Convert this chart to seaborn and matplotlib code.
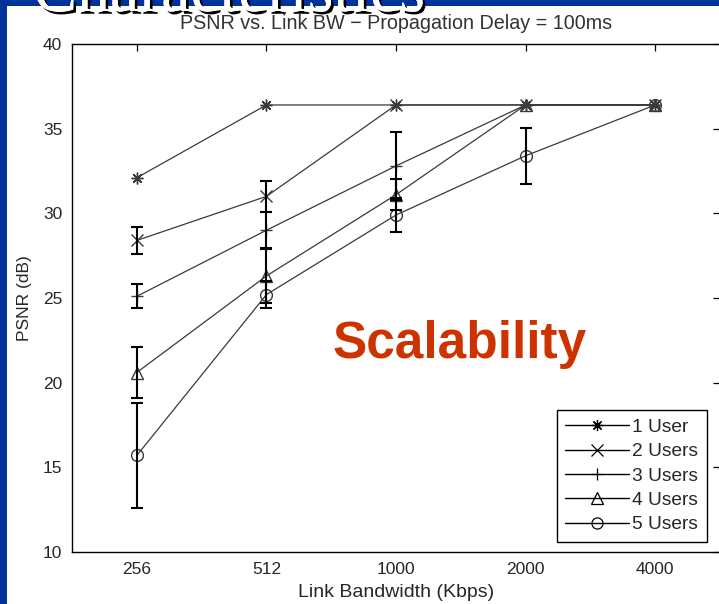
import matplotlib
matplotlib.use("Agg")
import matplotlib.pyplot as plt
import matplotlib.patheffects as pe
from matplotlib.patches import Rectangle
from matplotlib.lines import Line2D
import pandas as pd
import seaborn as sns

# Link bandwidth categories (Kbps) and the user counts compared
bandwidths = ["256", "512", "1000", "2000", "4000"]
users = ["1 User", "2 Users", "3 Users", "4 Users", "5 Users"]

# Mean PSNR (dB) per bandwidth for each user count
psnr_1 = [32.1, 36.4, 36.4, 36.4, 36.4]
psnr_2 = [28.4, 31.0, 36.4, 36.4, 36.4]
psnr_3 = [25.1, 29.0, 32.8, 36.4, 36.4]
psnr_4 = [20.6, 26.3, 31.1, 36.4, 36.4]
psnr_5 = [15.7, 25.2, 29.9, 33.4, 36.4]

# Half-width of the PSNR spread (dB)
err_1 = [0.0, 0.0, 0.0, 0.0, 0.0]
err_2 = [0.8, 0.9, 0.0, 0.0, 0.0]
err_3 = [0.7, 1.05, 2.0, 0.0, 0.0]
err_4 = [1.5, 1.6, 0.9, 0.0, 0.0]
err_5 = [3.1, 0.8, 1.0, 1.65, 0.0]

series_psnr = [psnr_1, psnr_2, psnr_3, psnr_4, psnr_5]
series_err = [err_1, err_2, err_3, err_4, err_5]
markers = [(8, 2, 0), "x", "+", "^", "o"]

W, H = 719, 604
sns.set_theme(style="white")
plt.rcParams["font.family"] = ["Liberation Sans", "DejaVu Sans"]

fig = plt.figure(figsize=(W / 100, H / 100), dpi=100)
fig.patch.set_facecolor("white")

# slide frame
blue = "#003399"
fig.patches.append(Rectangle((0, 1 - 6 / H), 1, 6 / H, transform=fig.transFigure,
                             facecolor=blue, edgecolor="none", zorder=0))
fig.patches.append(Rectangle((0, 0), 7 / W, 1, transform=fig.transFigure,
                             facecolor=blue, edgecolor="none", zorder=0))
fig.text(33 / W, 1 - 11 / H, "Characteristics", family="Liberation Serif",
         fontsize=47.5, color="white", ha="left", va="baseline", zorder=5,
         path_effects=[pe.withSimplePatchShadow(offset=(2, -2), shadow_rgbFace="black", alpha=1.0),
                       pe.Normal()])

ax_left, ax_right, ax_top, ax_bottom = 72, 720, 44, 552
ax = fig.add_axes([ax_left / W, (H - ax_bottom) / H, (ax_right - ax_left) / W,
                   (ax_bottom - ax_top) / H])
ax.set_facecolor("white")

positions = list(range(1, len(bandwidths) + 1))
line_col = "#3a3a3a"
for name, vals, errs, mk in zip(users, series_psnr, series_err, markers):
    df = pd.DataFrame({"pos": positions, "psnr": vals})
    sns.lineplot(data=df, x="pos", y="psnr", ax=ax, color=line_col, lw=0.9,
                 marker=mk, markersize=8.5, mec=line_col, mew=1.0,
                 errorbar=None, legend=False)
    ax.lines[-1].set_markerfacecolor("none")
    pts = [(p, v, e) for p, v, e in zip(positions, vals, errs) if e > 0]
    if pts:
        ax.errorbar([p for p, _, _ in pts], [v for _, v, _ in pts],
                    yerr=[e for _, _, e in pts], fmt="none", ecolor="black",
                    elinewidth=1.5, capsize=4.5, capthick=1.5, zorder=3)

ax.set_xlim(0.5, 5.5)
ax.set_ylim(10, 40)
ax.set_xticks(positions)
ax.set_xticklabels(bandwidths)
ax.set_yticks([10, 15, 20, 25, 30, 35, 40])
ax.tick_params(direction="in", length=5, width=0.9, top=True, right=True,
               labelsize=12.5, labelcolor="#262626", color="black", pad=7)
for s in ax.spines.values():
    s.set_color("black")
    s.set_linewidth(1.0)

ax.set_title("PSNR vs. Link BW \u2212 Propagation Delay = 100ms", fontsize=14.2,
             color="#333333", pad=11)
ax.set_xlabel("Link Bandwidth (Kbps)", fontsize=14, color="#262626", labelpad=5)
ax.set_ylabel("PSNR (dB)", fontsize=12.5, color="#262626", labelpad=8)

handles = [Line2D([], [], color="black", lw=1.0, marker=mk, markersize=8,
                  mfc="none", mec="black", mew=0.9) for mk in markers]
leg = ax.legend(handles, users, loc="lower right",
                bbox_to_anchor=((707 - ax_left) / (ax_right - ax_left),
                                (ax_bottom - 542) / (ax_bottom - ax_top)),
                fontsize=13.8, frameon=True, fancybox=False, handlelength=3.3,
                handletextpad=0.2, labelspacing=0.36, borderpad=0.45,
                borderaxespad=0)
leg.get_frame().set_edgecolor("black")
leg.get_frame().set_linewidth(1.0)
leg.get_frame().set_facecolor("white")
leg.get_frame().set_alpha(1.0)

fig.text(460 / W, (H - 358) / H, "Scalability", fontsize=37, fontweight="bold",
         color="#CC3300", ha="center", va="baseline")

fig.savefig("out.png", dpi=100, facecolor="white")
